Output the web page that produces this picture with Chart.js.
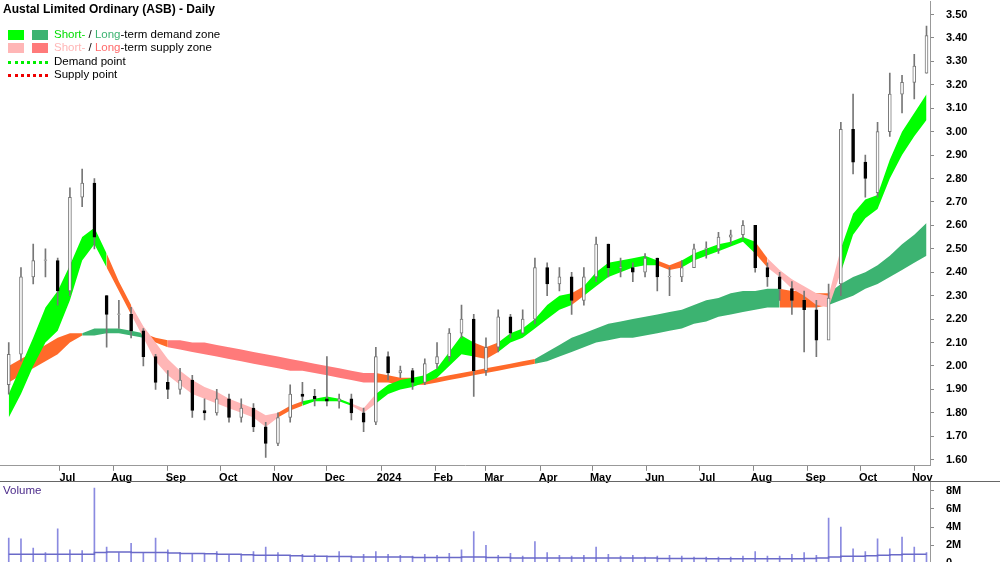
<!DOCTYPE html>
<html><head><meta charset="utf-8">
<script src="https://cdn.jsdelivr.net/npm/chart.js@4.4.1/dist/chart.umd.min.js"></script>
<style>
body{margin:0;background:#fff;font-family:"Liberation Sans",Arial,sans-serif;}
#wrap{position:relative;width:1000px;height:562px;overflow:hidden;}
#c1{position:absolute;left:0;top:-17px;}
#c2{position:absolute;left:0;top:464px;}
.t{position:absolute;font-size:11.5px;color:#000;white-space:nowrap;}
.sw{position:absolute;width:16px;height:10px;}
.dot{position:absolute;width:40px;height:0;border-top:3px dotted;}
</style></head><body>
<div id="wrap">
<canvas id="c1" width="1000" height="503"></canvas>
<canvas id="c2" width="1000" height="118"></canvas>
<div class="t" style="left:3px;top:2px;font-weight:bold;font-size:12px">Austal Limited Ordinary (ASB) - Daily</div>
<div class="sw" style="left:8px;top:30px;background:#00ff00"></div><div class="sw" style="left:32px;top:30px;background:#3cb371"></div>
<div class="t" style="left:54px;top:28px"><span style="color:#00dd00">Short-</span> / <span style="color:#3cb371">Long</span>-term demand zone</div>
<div class="sw" style="left:8px;top:43px;background:#ffb6b6"></div><div class="sw" style="left:32px;top:43px;background:#ff7a7a"></div>
<div class="t" style="left:54px;top:41px"><span style="color:#ffb6b6">Short-</span> / <span style="color:#ff6a6a">Long</span>-term supply zone</div>
<div class="dot" style="left:8px;top:61px;border-color:#00ee00"></div><div class="t" style="left:54px;top:55px">Demand point</div>
<div class="dot" style="left:8px;top:74px;border-color:#ee0000"></div><div class="t" style="left:54px;top:68px">Supply point</div>
<div class="t" style="left:3px;top:484px;color:#4b2a8a">Volume</div>
<div style="position:absolute;left:0;top:481px;width:1000px;height:1px;background:#666"></div>
</div>
<script>
const startDate = '2023-06-02';
const closes=[2.05,2.38,2.45,2.45,2.32,2.72,2.78,2.55,2.22,2.22,2.15,2.04,1.93,1.90,1.94,1.81,1.80,1.86,1.78,1.82,1.74,1.67,1.78,1.88,1.87,1.86,1.85,1.86,1.80,1.76,2.04,1.97,1.98,1.93,2.01,2.04,2.14,2.20,1.98,2.08,2.21,2.14,2.20,2.42,2.35,2.38,2.28,2.38,2.52,2.42,2.42,2.40,2.46,2.38,2.38,2.42,2.50,2.50,2.55,2.56,2.60,2.42,2.38,2.33,2.28,2.24,2.11,2.29,3.01,2.87,2.80,3.00,3.16,3.21,3.28,3.41];
const opens=[1.92,2.05,2.38,2.45,2.45,2.32,2.72,2.78,2.30,2.22,2.22,2.15,2.04,1.93,1.90,1.94,1.81,1.80,1.86,1.78,1.82,1.74,1.67,1.78,1.88,1.87,1.86,1.85,1.86,1.80,1.76,2.04,1.97,1.98,1.93,2.01,2.04,2.14,2.20,1.98,2.08,2.21,2.14,2.20,2.42,2.35,2.38,2.28,2.38,2.52,2.42,2.42,2.40,2.46,2.38,2.38,2.42,2.50,2.50,2.55,2.56,2.60,2.42,2.38,2.33,2.28,2.24,2.11,2.35,3.01,2.87,2.74,3.00,3.16,3.21,3.25];
const highs=[2.10,2.42,2.52,2.50,2.46,2.76,2.84,2.80,2.30,2.28,2.25,2.16,2.05,1.98,1.99,1.96,1.86,1.90,1.88,1.86,1.84,1.76,1.80,1.92,1.93,1.90,2.04,1.88,1.88,1.82,2.08,2.06,2.00,1.99,2.03,2.10,2.16,2.26,2.22,2.12,2.24,2.22,2.24,2.46,2.44,2.42,2.40,2.42,2.55,2.52,2.46,2.44,2.48,2.46,2.42,2.45,2.52,2.53,2.57,2.58,2.62,2.60,2.44,2.40,2.36,2.32,2.28,2.35,3.04,3.16,2.90,3.04,3.25,3.24,3.33,3.45];
const lows=[1.88,2.02,2.35,2.38,2.26,2.30,2.68,2.50,2.08,2.16,2.12,2.00,1.90,1.86,1.88,1.78,1.77,1.79,1.76,1.76,1.72,1.61,1.66,1.76,1.84,1.83,1.83,1.82,1.77,1.72,1.75,1.94,1.95,1.90,1.92,1.99,2.02,2.12,1.87,1.96,2.06,2.12,2.14,2.18,2.30,2.32,2.22,2.26,2.36,2.38,2.38,2.36,2.38,2.32,2.30,2.36,2.42,2.46,2.48,2.52,2.54,2.40,2.34,2.28,2.22,2.06,2.04,2.18,2.30,2.82,2.72,2.72,2.98,3.08,3.14,3.25];
const shortLow=[1.78,1.88,2.00,2.10,2.15,2.28,2.45,2.52,2.42,2.32,2.22,2.12,2.02,1.96,1.92,1.88,1.86,1.84,1.82,1.80,1.78,1.74,1.78,1.81,1.83,1.85,1.85,1.85,1.83,1.80,1.84,1.88,1.90,1.91,1.93,1.95,2.00,2.05,2.04,2.03,2.06,2.10,2.12,2.16,2.20,2.24,2.26,2.30,2.34,2.38,2.40,2.42,2.43,2.43,2.41,2.42,2.45,2.47,2.49,2.51,2.53,2.48,2.42,2.38,2.33,2.30,2.26,2.25,2.40,2.56,2.63,2.67,2.80,2.90,2.98,3.05];
const shortHigh=[1.88,2.00,2.12,2.25,2.32,2.43,2.55,2.59,2.48,2.36,2.26,2.17,2.10,2.03,1.98,1.94,1.91,1.89,1.86,1.84,1.82,1.79,1.80,1.83,1.85,1.86,1.87,1.86,1.84,1.82,1.88,1.92,1.94,1.95,1.96,1.99,2.06,2.13,2.10,2.08,2.10,2.14,2.16,2.20,2.26,2.30,2.31,2.34,2.40,2.44,2.45,2.46,2.47,2.45,2.43,2.45,2.48,2.50,2.52,2.53,2.55,2.53,2.46,2.41,2.37,2.34,2.31,2.30,2.50,2.65,2.71,2.73,2.88,3.00,3.08,3.16];
const longLow=[1.93,1.96,1.99,2.02,2.05,2.10,2.13,2.13,2.14,2.14,2.13,2.12,2.10,2.08,2.07,2.06,2.05,2.04,2.03,2.02,2.01,2.00,1.99,1.98,1.98,1.97,1.96,1.95,1.94,1.93,1.93,1.93,1.92,1.92,1.92,1.93,1.94,1.95,1.96,1.97,1.98,1.99,2.00,2.01,2.02,2.04,2.06,2.08,2.10,2.11,2.12,2.12,2.13,2.14,2.15,2.16,2.18,2.19,2.21,2.22,2.23,2.24,2.25,2.25,2.25,2.25,2.25,2.26,2.28,2.30,2.33,2.35,2.38,2.41,2.44,2.47];
const longHigh=[2.00,2.03,2.06,2.09,2.12,2.14,2.14,2.16,2.16,2.16,2.15,2.14,2.12,2.11,2.11,2.10,2.10,2.09,2.08,2.07,2.06,2.05,2.04,2.03,2.02,2.01,2.00,1.99,1.98,1.97,1.97,1.96,1.95,1.95,1.94,1.95,1.96,1.97,1.98,1.99,2.00,2.01,2.02,2.03,2.06,2.09,2.12,2.14,2.16,2.18,2.19,2.20,2.21,2.22,2.23,2.24,2.26,2.28,2.29,2.31,2.32,2.32,2.33,2.33,2.32,2.32,2.31,2.31,2.35,2.38,2.40,2.43,2.47,2.52,2.56,2.61];
const shortState='DDDDDDDDOOSSSSSSSSSSSSOODDDDSSDDDDDDDDOODDDDDDODDDDDDOODDDDDDOSSSSSSDDDDDDDD';
const longState ='OOOOOODDDDDOOSSSSSSSSSSSSSSSSSOOOOOOOOOOOOODDDDDDDDDDDDDDDDDDDDOOOODDDDDDDDD';
const volumes=[2.8,2.7,1.7,1.2,3.8,1.5,1.4,8.3,1.8,1.2,2.2,1.1,2.8,1.5,1.2,1.0,1.1,1.3,0.9,1.0,1.3,1.8,1.2,0.9,1.0,1.0,0.8,1.3,0.8,1.0,1.3,1.0,0.9,0.8,1.0,0.9,1.1,1.5,3.5,2.0,0.9,1.1,0.8,2.4,1.2,0.9,0.8,0.9,1.8,1.0,0.8,0.9,0.7,0.8,0.9,0.8,0.7,0.7,0.7,0.7,0.8,1.3,0.8,0.8,1.0,1.2,0.9,5.0,4.0,1.6,1.3,2.7,1.6,2.9,1.8,1.2];
const volAvg=[1.0,1.0,1.0,1.0,1.0,1.0,1.0,1.2,1.25,1.25,1.2,1.2,1.2,1.15,1.1,1.1,1.05,1.0,1.0,0.95,0.9,0.9,0.9,0.85,0.8,0.8,0.75,0.75,0.7,0.7,0.7,0.7,0.7,0.65,0.65,0.65,0.65,0.7,0.7,0.65,0.65,0.6,0.6,0.6,0.6,0.6,0.6,0.6,0.6,0.6,0.6,0.6,0.6,0.55,0.55,0.55,0.55,0.5,0.5,0.5,0.5,0.5,0.5,0.5,0.5,0.55,0.6,0.7,0.8,0.8,0.85,0.9,0.95,1.0,1.0,1.0];
const priceTicks=[1.6,1.7,1.8,1.9,2.0,2.1,2.2,2.3,2.4,2.5,2.6,2.7,2.8,2.9,3.0,3.1,3.2,3.3,3.4,3.5];
const monthLabels=['Jul','Aug','Sep','Oct','Nov','Dec','2024','Feb','Mar','Apr','May','Jun','Jul','Aug','Sep','Oct','Nov'];
const monthStarts=['2023-07-01','2023-08-01','2023-09-01','2023-10-01','2023-11-01','2023-12-01','2024-01-01','2024-02-01','2024-03-01','2024-04-01','2024-05-01','2024-06-01','2024-07-01','2024-08-01','2024-09-01','2024-10-01','2024-11-01'];
const volTicks=[0,2,4,6,8];

const DAY=86400000, ORIGIN=Date.UTC(2023,6,1);
const dayOf=s=>Math.round((Date.parse(s+'T00:00:00Z')-ORIGIN)/DAY);
const x0=dayOf(startDate);
const xs=closes.map((_,i)=>x0+7*i);
const mDays=monthStarts.map(dayOf);
const XMIN=-34, XMAX=498;
const col={S:{D:'#00ff00',S:'#ffb6b6',O:'#ff6a2a'},L:{D:'#3cb371',S:'#ff7a7a',O:'#ff6a2a'}};
const pts=a=>a.map((v,i)=>({x:xs[i],y:v}));
function band(lo,hi,st,key,order){
  return [
    {type:'line',data:pts(lo),pointRadius:0,borderWidth:0,fill:false,order},
    {type:'line',data:pts(hi),pointRadius:0,borderWidth:0,fill:'-1',order,
     backgroundColor:col[key].D,
     segment:{backgroundColor:c=>col[key][st[c.p0DataIndex]]}}
  ];
}
const font={family:'Liberation Sans',size:11,weight:'bold'};
const xScale={type:'linear',min:XMIN,max:XMAX,offset:false,
  afterBuildTicks:s=>{s.ticks=mDays.map(v=>({value:v}));},
  ticks:{autoSkip:false,maxRotation:0,labelOffset:8,padding:1,color:'#000',font,
    callback:(v,i)=>monthLabels[i]},
  grid:{drawOnChartArea:false,tickLength:5,color:'#888',offset:false},border:{color:'#999'}};

new Chart(document.getElementById('c1'),{
  data:{datasets:[
    ...band(longLow,longHigh,longState,'L',5),
    ...band(shortLow,shortHigh,shortState,'S',4),
    {type:'bar',grouped:false,order:2,barThickness:1,backgroundColor:'#777',
     data:xs.map((x,i)=>({x,y:[lows[i],highs[i]]}))},
    {type:'bar',grouped:false,order:1,barThickness:3,borderWidth:1,borderSkipped:false,
     borderColor:closes.map((c,i)=>c<opens[i]?'#000':'#777'),
     backgroundColor:closes.map((c,i)=>c<opens[i]?'#000':'#fff'),
     data:xs.map((x,i)=>({x,y:[opens[i],closes[i]===opens[i]?closes[i]+0.003:closes[i]]}))}
  ]},
  options:{responsive:false,animation:false,
    plugins:{legend:{display:false},tooltip:{enabled:false}},
    scales:{
      x:xScale,
      y:{type:'linear',position:'right',min:1.574,max:3.555,
        afterBuildTicks:s=>{s.ticks=priceTicks.map(v=>({value:v}));},
        afterFit:s=>{s.width=70;},
        ticks:{padding:12,color:'#000',font,callback:v=>v.toFixed(2)},
        grid:{drawOnChartArea:false,tickLength:4,color:'#888'},border:{color:'#999'}}
    }}
});

new Chart(document.getElementById('c2'),{
  data:{datasets:[
    {type:'line',data:pts(volAvg),pointRadius:0,borderWidth:1.5,borderColor:'#6a6ac8',stepped:true,order:1},
    {type:'bar',data:pts(volumes),barThickness:1,backgroundColor:'#8a8ae0',order:2}
  ]},
  options:{responsive:false,animation:false,
    plugins:{legend:{display:false},tooltip:{enabled:false}},
    scales:{
      x:{type:'linear',min:XMIN,max:XMAX,display:false,offset:false},
      y:{type:'linear',position:'right',min:0,max:8.9,
        afterBuildTicks:s=>{s.ticks=volTicks.map(v=>({value:v}));},
        afterFit:s=>{s.width=70;},
        ticks:{padding:12,color:'#000',font,callback:v=>v===0?'0':v+'M'},
        grid:{drawOnChartArea:false,tickLength:4,color:'#888'},border:{color:'#999'}}
    }}
});
</script>
</body></html>
